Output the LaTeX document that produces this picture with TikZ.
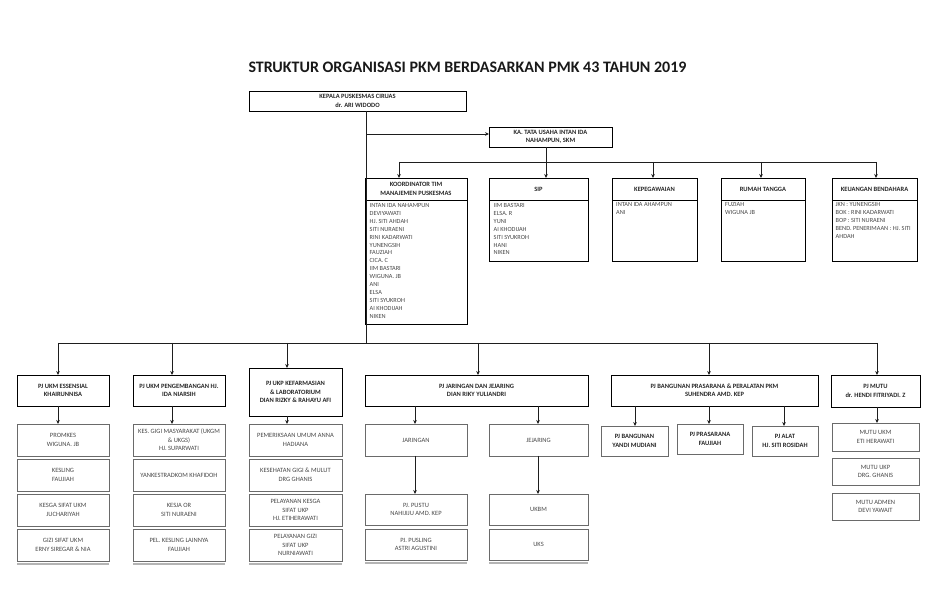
\documentclass[tikz,border=0pt]{standalone}
\usepackage{fontspec}
\setmainfont{Carlito}
\usetikzlibrary{arrows.meta}
\definecolor{ln}{HTML}{1E1E1E}
\definecolor{lgray}{HTML}{6A6A6A}
\definecolor{tgray}{HTML}{474747}
\definecolor{shd}{HTML}{B4B4B4}
\newcommand\obox[7]{\node[#1, minimum width={(#5-#3)*1pt}, minimum height={(#6-#4)*1pt}] (#2) at ({(#3+#5)/2},{(#4+#6)/2}) {#7};}
\begin{document}
\begin{tikzpicture}[x=1pt,y=-1pt,
  box/.style={draw=black, line width=0.9pt, inner sep=1pt, outer sep=0pt, align=center,
    font=\fontsize{6.5}{8.5}\selectfont\bfseries, text=black!85},
  lbox/.style={draw=lgray, line width=0.8pt, inner sep=1pt, outer sep=0pt, align=center,
    font=\fontsize{6.5}{8.5}\selectfont, text=tgray},
  lboxb/.style={lbox, font=\fontsize{6.5}{8.5}\selectfont\bfseries, text=black!85},
  listtxt/.style={anchor=north west, align=left, inner sep=0pt,
    font=\fontsize{6.3}{7.9}\selectfont, text=tgray},
  conn/.style={draw=ln, line width=0.8pt},
  arr/.style={conn, -{Stealth[length=4pt,width=3.6pt]}},
  shadowline/.style={draw=shd, line width=1.3pt}]
\path[use as bounding box] (0,0) rectangle (935,609);

\node[font=\fontsize{16}{19}\selectfont\bfseries, text=black!90] (title) at (467.5,67) {STRUKTUR ORGANISASI PKM BERDASARKAN PMK 43 TAHUN 2019};

% top level
\obox{box}{kepala}{249}{91}{466}{111}{KEPALA PUSKESMAS CIRUAS\\dr. ARI WIDODO}
\obox{box}{katu}{489}{127}{612}{147}{KA. TATA USAHA INTAN IDA\\NAHAMPUN, SKM}

% second row
\obox{box}{koordh}{365}{178}{467}{200}{KOORDINATOR TIM\\MANAJEMEN PUSKESMAS}
\obox{box}{koordb}{365}{200}{467}{324}{}
\obox{box}{siph}{489}{178}{588}{200}{SIP}
\obox{box}{sipb}{489}{200}{588}{261}{}
\obox{box}{kepegh}{612}{178}{697}{200}{KEPEGAWAIAN}
\obox{box}{kepegb}{612}{200}{697}{261}{}
\obox{box}{rth}{721}{178}{805}{200}{RUMAH TANGGA}
\obox{box}{rtb}{721}{200}{805}{261}{}
\obox{box}{keuh}{832}{178}{917}{200}{KEUANGAN BENDAHARA}
\obox{box}{keub}{832}{200}{917}{261}{}

\node[listtxt] (koordl) at (369.5,203.3) {INTAN IDA NAHAMPUN\\DEVIYAWATI\\HJ. SITI AHDAH\\SITI NURAENI\\RINI KADARWATI\\YUNENGSIH\\FAUZIAH\\CICA. C\\IIM BASTARI\\WIGUNA. JB\\ANI\\ELSA\\SITI SYUKROH\\AI KHODIJAH\\NIKEN};
\node[listtxt] (sipl) at (493.5,203.3) {IIM BASTARI\\ELSA. R\\YUNI\\AI KHODIJAH\\SITI SYUKROH\\HANI\\NIKEN};
\node[listtxt] (kepegl) at (616,202.5) {INTAN IDA AHAMPUN\\ANI};
\node[listtxt] (rtl) at (725,202.5) {FUZIAH\\WIGUNA JB};
\node[listtxt] (keul) at (835.5,202.5) {JKN : YUNENGSIH\\BOK : RINI KADARWATI\\BOP : SITI NURAENI\\BEND. PENERIMAAN : HJ. SITI\\AHDAH};

% third row
\obox{box}{ess}{17}{375}{109}{406}{PJ UKM ESSENSIAL\\KHAIRUNNISA}
\obox{box}{peng}{133}{375}{225}{406}{PJ UKM PENGEMBANGAN HJ.\\IDA NIARSIH}
\obox{box}{ukp}{249}{368}{342}{416}{PJ UKP KEFARMASIAN\\\& LABORATORIUM\\DIAN RIZKY \& RAHAYU AFI}
\obox{box}{jar}{365}{375}{588}{406}{PJ JARINGAN DAN JEJARING\\DIAN RIKY YULIANDRI}
\obox{box}{bang}{611}{375}{818}{406}{PJ BANGUNAN PRASARANA \& PERALATAN PKM\\SUHENDRA AMD. KEP}
\obox{box}{mutu}{831}{375}{920}{407}{PJ MUTU\\dr. HENDI FITRIYADI. Z}

% column 1
\obox{lbox}{c1a}{17}{424}{109}{456}{PROMKES\\WIGUNA. JB}
\obox{lbox}{c1b}{17}{459}{109}{491}{KESLING\\FAUJIAH}
\obox{lbox}{c1c}{17}{494}{109}{526}{KESGA SIFAT UKM\\JUCHARIYAH}
\obox{lbox}{c1d}{17}{529}{109}{561}{GIZI SIFAT UKM\\ERNY SIREGAR \& NIA}
% column 2
\obox{lbox}{c2a}{133}{424}{225}{456}{KES. GIGI MASYARAKAT (UKGM\\\& UKGS)\\HJ. SUPARWATI}
\obox{lbox}{c2b}{133}{459}{225}{491}{YANKESTRADKOM KHAFIDOH}
\obox{lbox}{c2c}{133}{494}{225}{526}{KESJA OR\\SITI NURAENI}
\obox{lbox}{c2d}{133}{529}{225}{561}{PEL. KESLING LAINNYA\\FAUJIAH}
% column 3
\obox{lbox}{c3a}{249}{424}{342}{456}{PEMERIKSAAN UMUM ANNA\\HADIANA}
\obox{lbox}{c3b}{249}{459}{342}{491}{KESEHATAN GIGI \& MULUT\\DRG GHANIS}
\obox{lbox}{c3c}{249}{494}{342}{526}{PELAYANAN KESGA\\SIFAT UKP\\HJ. ETIHERAWATI}
\obox{lbox}{c3d}{249}{529}{342}{561}{PELAYANAN GIZI\\SIFAT UKP\\NURNIAWATI}
% jaringan
\obox{lbox}{jrg}{365}{424}{467}{456}{JARINGAN}
\obox{lbox}{jej}{489}{424}{588}{456}{JEJARING}
\obox{lbox}{pustu}{365}{494}{467}{525}{PJ. PUSTU\\NAHIJIJU AMD. KEP}
\obox{lbox}{pusling}{365}{529}{467}{560}{PJ. PUSLING\\ASTRI AGUSTINI}
\obox{lbox}{ukbm}{489}{494}{588}{525}{UKBM}
\obox{lbox}{uks}{489}{529}{588}{560}{UKS}
% bangunan
\obox{lboxb}{pjb}{601}{426}{668}{456}{PJ BANGUNAN\\YANDI MUDIANI}
\obox{lboxb}{pjp}{677}{424}{743}{454}{PJ PRASARANA\\FAUJIAH}
\obox{lboxb}{pja}{752}{426}{818}{456}{PJ ALAT\\HJ. SITI ROSIDAH}
% mutu
\obox{lbox}{m1}{832}{423}{919}{451}{MUTU UKM\\ETI HERAWATI}
\obox{lbox}{m2}{832}{458}{919}{485}{MUTU UKP\\DRG. GHANIS}
\obox{lbox}{m3}{832}{493}{919}{520}{MUTU ADMEN\\DEVI YAWAIT}

% shadows under stacked columns
\foreach \n in {c1d,c2d,c3d,pusling,uks}{
  \draw[shadowline] ([yshift=-3pt]\n.south west) -- ([yshift=-3pt]\n.south east);
}

% connectors: top
\coordinate (kx) at (366,343);
\coordinate (kj) at (366,134);
\draw[conn] (kepala.south -| kx) -- (kx);
\draw[arr] (kj) -- (katu.west |- kj);

\coordinate (b1a) at (399,162);
\coordinate (b1b) at (546,162);
\coordinate (b1c) at (653,162);
\coordinate (b1d) at (761,162);
\coordinate (b1e) at (876,162);
\draw[conn] (b1a) -- (b1e);
\draw[arr] (katu.south -| b1b) -- (siph.north -| b1b);
\draw[arr] (b1a) -- (koordh.north -| b1a);
\draw[arr] (b1c) -- (kepegh.north -| b1c);
\draw[arr] (b1d) -- (rth.north -| b1d);
\draw[arr] (b1e) -- (keuh.north -| b1e);

% bus 2
\coordinate (b2a) at (58,343);
\coordinate (b2b) at (172,343);
\coordinate (b2c) at (287,343);
\coordinate (b2d) at (478,343);
\coordinate (b2e) at (709,343);
\coordinate (b2f) at (877,343);
\draw[conn] (b2a) -- (b2f);
\draw[arr] (b2a) -- (ess.north -| b2a);
\draw[arr] (b2b) -- (peng.north -| b2b);
\draw[arr] (b2c) -- (ukp.north -| b2c);
\draw[arr] (b2d) -- (jar.north -| b2d);
\draw[arr] (b2e) -- (bang.north -| b2e);
\draw[arr] (b2f) -- (mutu.north -| b2f);

% third to fourth
\draw[arr] (ess.south -| b2a) -- (c1a.north -| b2a);
\draw[arr] (peng.south -| b2b) -- (c2a.north -| b2b);
\draw[arr] (ukp.south -| b2c) -- (c3a.north -| b2c);
\coordinate (jx1) at (415,406);
\coordinate (jx2) at (538,406);
\draw[arr] (jar.south -| jx1) -- (jrg.north -| jx1);
\draw[arr] (jar.south -| jx2) -- (jej.north -| jx2);
\draw[arr] (jrg.south -| jx1) -- (pustu.north -| jx1);
\draw[arr] (jej.south -| jx2) -- (ukbm.north -| jx2);
\coordinate (bx1) at (635,406);
\coordinate (bx3) at (784,406);
\draw[arr] (bang.south -| bx1) -- (pjb.north -| bx1);
\draw[arr] (bang.south -| b2e) -- (pjp.north -| b2e);
\draw[arr] (bang.south -| bx3) -- (pja.north -| bx3);
\draw[arr] (mutu.south -| b2f) -- (m1.north -| b2f);
\end{tikzpicture}
\end{document}
